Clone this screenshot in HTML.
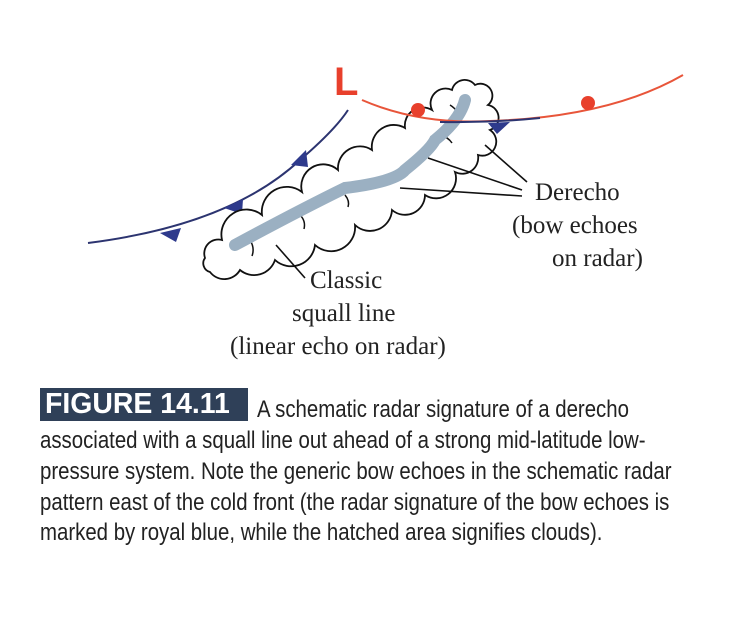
<!DOCTYPE html>
<html><head><meta charset="utf-8"><style>
html,body{margin:0;padding:0;background:#fff;}
body{width:736px;height:624px;position:relative;overflow:hidden;}
.cap{position:absolute;left:40px;font-family:"Liberation Sans",sans-serif;font-size:24px;color:#222;white-space:nowrap;transform-origin:0 0;transform:scaleX(0.85);}
.box{position:absolute;left:40px;top:388px;width:208px;height:33px;background:#2f4058;}
.box span{position:absolute;left:5px;top:0px;font-family:"Liberation Sans",sans-serif;font-weight:bold;font-size:29px;color:#fff;white-space:nowrap;transform-origin:0 0;transform:scaleX(0.98);}
</style></head><body>
<svg width="736" height="380" style="position:absolute;left:0;top:0" font-family="Liberation Serif, serif" font-size="25" fill="#222">
<path d="M88,243 Q230,225 300,160 Q335,130 348,110" fill="none" stroke="#2c3470" stroke-width="2"/>
<polygon points="160,233 181,228 176,242" fill="#2e3a8c"/>
<polygon points="224,208 243,199 242,214" fill="#2e3a8c"/>
<polygon points="291,165 306,150 308,167" fill="#2e3a8c"/>
<path d="M205,258 A14,14 0 0 1 222,240 A25,25 0 0 1 262,215 A25,25 0 0 1 302,192 A22,22 0 0 1 338,170 A22,22 0 0 1 372,150 A22,22 0 0 1 405,128 A18,18 0 0 1 432,110 A15,15 0 0 1 452,90 A13,13 0 0 1 475,85 A12,12 0 0 1 488,105 A13,13 0 0 1 490,130 A14,14 0 0 1 478,155 A16,16 0 0 1 455,172 A20,20 0 0 1 425,195 A20,20 0 0 1 392,210 A22,22 0 0 1 355,225 A24,24 0 0 1 315,245 A24,24 0 0 1 275,260 A22,22 0 0 1 240,270 A18,18 0 0 1 210,272 A9,9 0 0 1 205,258 Z" fill="#fff" stroke="#111" stroke-width="1.8"/>
<g stroke="#111" stroke-width="1.5" fill="none">
<path d="M250,240 q5,8 2,16"/><path d="M300,215 q6,6 4,14"/><path d="M345,195 q5,6 3,12"/><path d="M440,135 q8,2 12,8"/><path d="M450,105 q5,3 8,8"/>
</g>
<path d="M235,245 Q300,210 345,188 Q395,182 405,170 Q430,150 435,140 Q460,120 465,100" fill="none" stroke="#9bb0c2" stroke-width="12" stroke-linecap="round"/>
<path d="M362,100 Q420,125 490,121 Q610,117 683,75" fill="none" stroke="#e8553a" stroke-width="2"/>
<path d="M440,122 Q490,123 540,118" fill="none" stroke="#2c3470" stroke-width="2"/>
<polygon points="488,123 510,122 497,134" fill="#2e3a8c"/>
<circle cx="418" cy="110" r="7" fill="#e8402c"/>
<circle cx="588" cy="103" r="7" fill="#e8402c"/>
<text x="334" y="95" font-family="Liberation Sans, sans-serif" font-weight="bold" font-size="40" fill="#e8402c">L</text>
<g stroke="#111" stroke-width="1.6">
<line x1="485" y1="145" x2="527" y2="182"/>
<line x1="428" y1="158" x2="522" y2="190"/>
<line x1="400" y1="188" x2="522" y2="196"/>
<line x1="276" y1="245" x2="305" y2="278"/>
</g>
<text x="535" y="200">Derecho</text>
<text x="512" y="233">(bow echoes</text>
<text x="552" y="266">on radar)</text>
<text x="310" y="288">Classic</text>
<text x="292" y="321">squall line</text>
<text x="230" y="354">(linear echo on radar)</text>
</svg>
<div class="box"><span>FIGURE 14.11</span></div>
<div class="cap" style="left:257px;top:396px">A schematic radar signature of a derecho</div>
<div class="cap" style="top:427px">associated with a squall line out ahead of a strong mid-latitude low-</div>
<div class="cap" style="top:458px">pressure system. Note the generic bow echoes in the schematic radar</div>
<div class="cap" style="top:489px">pattern east of the cold front (the radar signature of the bow echoes is</div>
<div class="cap" style="top:519px">marked by royal blue, while the hatched area signifies clouds).</div>
</body></html>
